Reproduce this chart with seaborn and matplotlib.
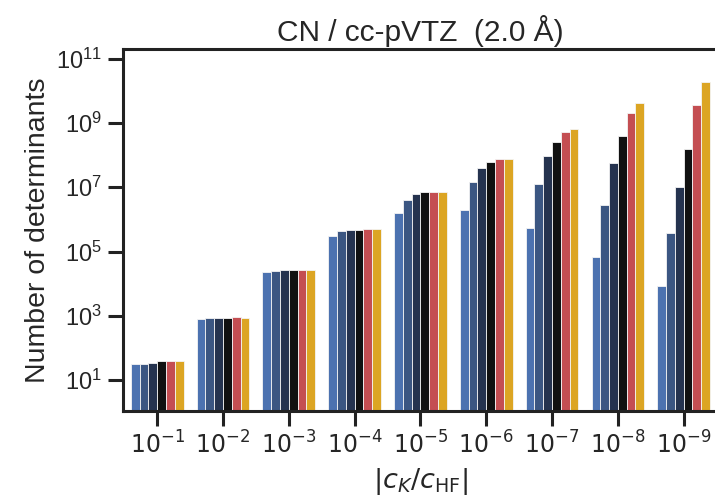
import pandas as pd
import seaborn as sns
import matplotlib.pyplot as plt
from matplotlib.ticker import NullLocator

# thresholds |c_K / c_HF| and number of determinants for each series
cutoffs = ['$10^{-1}$', '$10^{-2}$', '$10^{-3}$', '$10^{-4}$', '$10^{-5}$',
           '$10^{-6}$', '$10^{-7}$', '$10^{-8}$', '$10^{-9}$']
series = ['s1', 's2', 's3', 's4', 's5', 's6']
colors = ['#4c72b0', '#3b5682', '#25334f', '#111111', '#c44e52', '#dca523']

s1 = [31, 780, 22600, 3.1e5, 1.56e6, 1.98e6, 5.3e5, 6.9e4, 8.3e3]
s2 = [32, 836, 25400, 4.2e5, 4.05e6, 1.44e7, 1.28e7, 2.9e6, 3.7e5]
s3 = [35, 836, 26700, 4.7e5, 6.1e6, 4.0e7, 9.5e7, 5.5e7, 1.0e7]
s4 = [38, 836, 26700, 4.7e5, 7.0e6, 6.05e7, 2.65e8, 3.9e8, 1.54e8]
s5 = [38, 898, 26700, 4.95e5, 7.0e6, 7.7e7, 5.3e8, 2.1e9, 3.7e9]
s6 = [38, 878, 26700, 4.95e5, 7.2e6, 7.8e7, 6.5e8, 4.3e9, 1.83e10]

ytick_vals = [1e1, 1e3, 1e5, 1e7, 1e9, 1e11]
ytick_labels = [r'$\mathregular{10^{1}}$', r'$\mathregular{10^{3}}$', r'$\mathregular{10^{5}}$',
                r'$\mathregular{10^{7}}$', r'$\mathregular{10^{9}}$', r'$\mathregular{10^{11}}$']

rows = []
for name, vals in zip(series, [s1, s2, s3, s4, s5, s6]):
    for c, v in zip(cutoffs, vals):
        rows.append({'cutoff': c, 'ndet': v, 'series': name})
df = pd.DataFrame(rows)

sns.set_style('ticks')
plt.rcParams['font.family'] = ['Liberation Sans', 'DejaVu Sans']
plt.rcParams['axes.linewidth'] = 2.2

fig = plt.figure(figsize=(7.15, 5.01), dpi=100)
ax = fig.add_axes([0.172, 0.180, 0.832, 0.722])
ax.set_yscale('log')

sns.barplot(data=df, x='cutoff', y='ndet', hue='series', palette=colors,
            saturation=1, width=0.8, edgecolor='#f4f4f4', linewidth=0.6,
            errorbar=None, legend=False, ax=ax)

ax.set_ylim(1.1, 2.0e11)
ax.set_xlim(-0.52, 8.52)
ax.set_yticks(ytick_vals)
ax.set_yticklabels(ytick_labels, fontsize=17)
ax.yaxis.set_minor_locator(NullLocator())
ax.tick_params(axis='x', labelsize=17)
ax.tick_params(axis='both', length=11, width=2.2, color='#222222', pad=4)

for sp in ax.spines.values():
    sp.set_visible(True)
    sp.set_color('#222222')

ax.set_title('CN / cc-pVTZ  (2.0 Å)', fontsize=21.5, pad=6)
ax.set_ylabel('Number of determinants', fontsize=20.5)
ax.set_xlabel(r'$|c_K/c_{\mathrm{HF}}|$', fontsize=19.5, labelpad=5)

plt.savefig('out.png')
plt.close()
